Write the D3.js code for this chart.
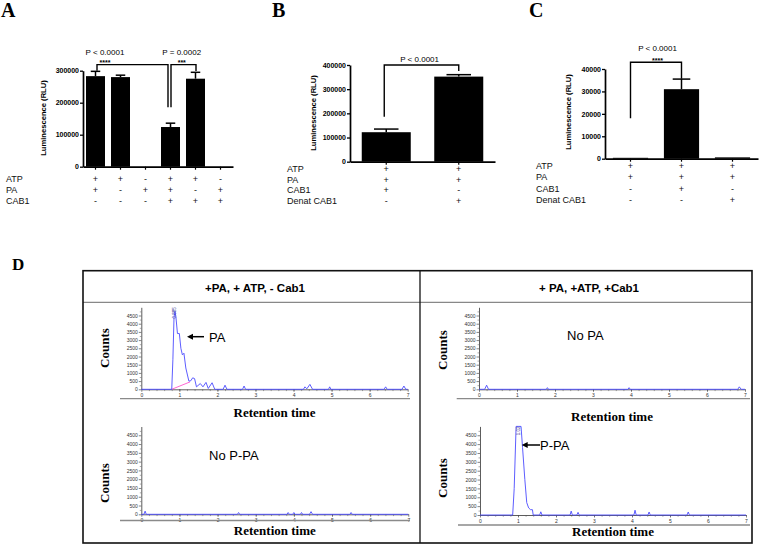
<!DOCTYPE html>
<html><head><meta charset="utf-8">
<script src="https://cdn.jsdelivr.net/npm/d3@7"></script>
<style>
body{margin:0;background:#fff}
svg{display:block}
</style></head><body>
<svg id="c" width="760" height="548"></svg>
<script>
// ---------- DATA ----------
// Panel A
const aMeans = [283000, 280000, 0, 124000, 275000, 0];
const aErrors = [15000, 6000, 0, 12000, 20000, 0];
const aTicks = [0, 100000, 200000, 300000];
const aRowLabels = ["ATP", "PA", "CAB1"];
const aSigns = [["+","+","-","+","+","-"],["+","-","+","+","-","+"],["-","-","-","+","+","+"]];
const aBrackets = [
  {from:0, to:3, top:319000, leftEnd:300000, rightEnd:186000, p:"P < 0.0001", stars:"****"},
  {from:3, to:4, top:319000, leftEnd:186000, rightEnd:299000, p:"P = 0.0002", stars:"***"}
];
// Panel B
const bMeans = [122000, 352000];
const bErrors = [13000, 8000];
const bTicks = [0, 100000, 200000, 300000, 400000];
const bRowLabels = ["ATP", "PA", "CAB1", "Denat CAB1"];
const bSigns = [["+","+"],["+","+"],["+","-"],["-","+"]];
const bBrackets = [{from:0, to:1, top:400000, leftEnd:186000, rightEnd:375000, p:"P < 0.0001", stars:""}];
// Panel C
const cMeans = [400, 31000, 600];
const cErrors = [0, 4500, 0];
const cTicks = [0, 10000, 20000, 30000, 40000];
const cRowLabels = ["ATP", "PA", "CAB1", "Denat CAB1"];
const cSigns = [["+","+","+"],["+","+","+"],["-","+","-"],["-","-","+"]];
const cBrackets = [{from:0, to:1, top:43000, leftEnd:18000, rightEnd:35700, p:"P < 0.0001", stars:"****"}];
// Panel D chromatograms [retention time, counts]
const chromXTicks = [0,1,2,3,4,5,6,7];
const chromYTicks = [0,500,1000,1500,2000,2500,3000,3500,4000,4500];
const dTitles = ["+PA, + ATP, - Cab1", "+ PA, +ATP, +Cab1"];
const chromTL = [[0,0],[0.8,0],[0.83,1800],[0.86,4400],[0.885,4750],[0.91,4400],[0.95,3400],[1.0,3400],[1.04,2500],[1.08,2100],[1.12,2200],[1.17,1300],[1.25,500],[1.3,520],[1.35,700],[1.4,650],[1.45,150],[1.55,350],[1.62,150],[1.7,420],[1.76,50],[1.86,400],[1.93,0],[2.15,0],[2.2,250],[2.25,0],[2.66,0],[2.7,200],[2.74,0],[4.26,0],[4.3,150],[4.35,30],[4.43,300],[4.5,0],[4.92,0],[4.95,150],[4.98,0],[6.38,0],[6.42,150],[6.46,0],[6.85,0],[6.9,200],[6.95,0],[7,0]];
const chromTLBase = [[0.8,0],[1.28,450]];
const chromTR = [[0,0],[0.15,0],[0.2,250],[0.25,0],[1.77,0],[1.8,100],[1.83,0],[3.92,0],[3.95,100],[3.98,0],[6.81,0],[6.85,150],[6.9,0],[7,0]];
const chromBL = [[0,0],[0.07,0],[0.1,180],[0.13,0],[2.52,0],[2.55,100],[2.58,0],[3.82,0],[3.85,100],[3.88,0],[3.97,0],[4.0,100],[4.03,0],[4.17,0],[4.2,100],[4.23,0],[4.41,0],[4.45,150],[4.49,0],[5.47,0],[5.5,100],[5.53,0],[7,0]];
const chromBR = [[0,0],[0.86,0],[0.9,1500],[0.95,5000],[1.08,5000],[1.12,3800],[1.18,2000],[1.23,700],[1.28,400],[1.33,300],[1.38,300],[1.4,0],[1.57,0],[1.6,180],[1.63,0],[2.37,0],[2.4,220],[2.43,0],[2.55,0],[2.58,150],[2.61,0],[4.05,0],[4.08,270],[4.11,0],[4.42,0],[4.45,170],[4.48,0],[5.45,0],[5.48,170],[5.51,0],[7,0]];

// ---------- DRAW ----------
const svg = d3.select("#c");
const SANS = "Arial, 'Liberation Sans', sans-serif";
const SERIF = "'Times New Roman', 'Liberation Serif', serif";

function panelLetter(t, x, y, size) {
  svg.append("text").attr("x", x).attr("y", y).attr("font-family", SERIF)
    .attr("font-weight", "bold").attr("font-size", size).text(t);
}

function barChart(cfg) {
  const g = svg.append("g");
  const n = cfg.means.length;
  const x = d3.scaleBand().domain(d3.range(n)).range(cfg.xRange)
    .paddingInner(cfg.pad).paddingOuter(cfg.pad / 2);
  const y = d3.scaleLinear().domain([0, cfg.yMax]).range(cfg.yRange);
  const cx = i => x(i) + x.bandwidth() / 2;

  g.selectAll("rect.bar").data(cfg.means).join("rect").attr("class", "bar")
    .attr("x", (d, i) => x(i)).attr("width", x.bandwidth())
    .attr("y", d => y(d)).attr("height", d => y(0) - y(d)).attr("fill", "#000");

  cfg.means.forEach((m, i) => {
    const e = cfg.errors[i];
    if (!e) return;
    const cw = x.bandwidth() * 0.25;
    g.append("line").attr("x1", cx(i)).attr("x2", cx(i)).attr("y1", y(m)).attr("y2", y(m + e))
      .attr("stroke", "#000").attr("stroke-width", 1.5);
    g.append("line").attr("x1", cx(i) - cw).attr("x2", cx(i) + cw).attr("y1", y(m + e)).attr("y2", y(m + e))
      .attr("stroke", "#000").attr("stroke-width", 1.5);
  });

  const ya = g.append("g").attr("transform", `translate(${cfg.xRange[0]},0)`)
    .call(d3.axisLeft(y).tickValues(cfg.ticks).tickSize(3).tickSizeOuter(0).tickPadding(1).tickFormat(d3.format("d")));
  ya.select(".domain").attr("stroke-width", 1.7);
  ya.selectAll(".tick line").attr("stroke-width", 1.3);
  ya.selectAll("text").attr("font-family", SANS).attr("font-weight", "bold").attr("font-size", 7).attr("fill", "#000");

  const xa = g.append("g").attr("transform", `translate(0,${cfg.yRange[0]})`)
    .call(d3.axisBottom(x).tickSize(3).tickSizeOuter(0).tickFormat(""));
  xa.select(".domain").attr("stroke-width", 1.7);
  xa.selectAll(".tick line").attr("stroke-width", 1.2);

  g.append("text").attr("transform", `translate(${cfg.yLabelX},${cfg.yLabelY}) rotate(-90)`)
    .attr("text-anchor", "middle").attr("font-family", SANS).attr("font-weight", "bold")
    .attr("font-size", 7.6).text("Luminescence (RLU)");

  cfg.rows.forEach((r, ri) => {
    const yy = cfg.rowY0 + ri * cfg.rowStep;
    g.append("text").attr("x", cfg.rowX).attr("y", yy).attr("font-family", SANS)
      .attr("font-size", 9).attr("fill", "#111").text(r);
    cfg.signs[ri].forEach((s, i) => {
      g.append("text").attr("x", cx(i)).attr("y", yy).attr("text-anchor", "middle")
        .attr("font-family", SANS).attr("font-size", 9).attr("fill", "#111").text(s);
    });
  });

  cfg.brackets.forEach((b, bi) => {
    const lx = cx(b.from) + cfg.bracketOff[bi][0];
    const rx = cx(b.to) + cfg.bracketOff[bi][1];
    g.append("path").attr("d", `M${lx},${y(b.leftEnd)}V${y(b.top)}H${rx}V${y(b.rightEnd)}`)
      .attr("fill", "none").attr("stroke", "#000").attr("stroke-width", 1.4);
    const tx = cx(0) + cfg.labelIdx[bi] * x.step();
    g.append("text").attr("x", tx).attr("y", y(b.top) + cfg.pDy).attr("text-anchor", "middle")
      .attr("font-family", SANS).attr("font-size", 8).text(b.p);
    if (b.stars) g.append("text").attr("x", tx).attr("y", y(b.top) + cfg.sDy).attr("text-anchor", "middle")
      .attr("font-family", SANS).attr("font-weight", "bold").attr("font-size", 7).text(b.stars);
  });
}

panelLetter("A", 1, 17, 20);
panelLetter("B", 272, 17, 20);
panelLetter("C", 529, 17, 20);
panelLetter("D", 12, 270, 17);

barChart({means: aMeans, errors: aErrors, ticks: aTicks, rows: aRowLabels, signs: aSigns, brackets: aBrackets,
  xRange: [83, 233], yRange: [166.7, 70.7], yMax: 300000, pad: 0.24,
  yLabelX: 46, yLabelY: 118, rowX: 6, rowY0: 182, rowStep: 10.8,
  bracketOff: [[1.5, -2.5], [0.5, 0.5]], labelIdx: [0.38, 3.45], pDy: -10, sDy: 0.8});

barChart({means: bMeans, errors: bErrors, ticks: bTicks, rows: bRowLabels, signs: bSigns, brackets: bBrackets,
  xRange: [350, 495], yRange: [161.7, 65], yMax: 400000, pad: 0.324,
  yLabelX: 315.5, yLabelY: 113, rowX: 287, rowY0: 172, rowStep: 10.7,
  bracketOff: [[-2, 0]], labelIdx: [0.46], pDy: -3, sDy: 0});

barChart({means: cMeans, errors: cErrors, ticks: cTicks, rows: cRowLabels, signs: cSigns, brackets: cBrackets,
  xRange: [605, 758], yRange: [158.7, 69], yMax: 40000, pad: 0.31,
  yLabelX: 571, yLabelY: 112, rowX: 536, rowY0: 168.5, rowStep: 11.5,
  bracketOff: [[0, 0]], labelIdx: [0.53], pDy: -11, sDy: 0.8});

// Panel D frame
const D = {left: 83, right: 752, top: 270.7, bottom: 543, mid: 420, header: 302.3};
svg.append("line").attr("x1", D.left).attr("x2", D.right).attr("y1", D.header).attr("y2", D.header)
  .attr("stroke", "#888").attr("stroke-width", 1.2);
svg.append("line").attr("x1", D.mid).attr("x2", D.mid).attr("y1", D.top).attr("y2", D.bottom)
  .attr("stroke", "#111").attr("stroke-width", 1.3);
svg.append("rect").attr("x", D.left).attr("y", D.top).attr("width", D.right - D.left).attr("height", D.bottom - D.top)
  .attr("fill", "none").attr("stroke", "#111").attr("stroke-width", 1.6);
svg.append("text").attr("x", 255).attr("y", 292).attr("text-anchor", "middle").attr("font-family", SANS)
  .attr("font-weight", "bold").attr("font-size", 11.5).text(dTitles[0]);
svg.append("text").attr("x", 589).attr("y", 292).attr("text-anchor", "middle").attr("font-family", SANS)
  .attr("font-weight", "bold").attr("font-size", 11.5).text(dTitles[1]);

function chrom(cfg) {
  const g = svg.append("g");
  const x = d3.scaleLinear().domain([0, 7]).range([cfg.x0, cfg.x7]);
  const y = d3.scaleLinear().domain([0, 5000]).range([cfg.y0, cfg.yTop]);
  // minor ticks
  const ya = g.append("g").attr("transform", `translate(${cfg.x0},0)`)
    .call(d3.axisLeft(y).tickValues(chromYTicks).tickSize(2.5).tickSizeOuter(0).tickPadding(1).tickFormat(d3.format("d")));
  ya.select(".domain").attr("stroke", "#333").attr("stroke-width", 0.8);
  ya.selectAll(".tick line").attr("stroke", "#333").attr("stroke-width", 0.6);
  ya.selectAll("text").attr("font-family", SANS).attr("font-size", 5).attr("fill", "#333");
  g.append("g").attr("transform", `translate(${cfg.x0},0)`)
    .call(d3.axisLeft(y).tickValues(d3.range(250, 5001, 500)).tickSize(1.5).tickFormat(""))
    .call(s => { s.select(".domain").remove(); s.selectAll("line").attr("stroke", "#555").attr("stroke-width", 0.5); });

  const xa = g.append("g").attr("transform", `translate(0,${cfg.y0})`)
    .call(d3.axisBottom(x).tickValues(chromXTicks).tickSize(2.5).tickSizeOuter(0).tickPadding(1.5).tickFormat(d3.format("d")));
  xa.select(".domain").attr("stroke", "#333").attr("stroke-width", 0.8);
  xa.selectAll(".tick line").attr("stroke", "#333").attr("stroke-width", 0.6);
  xa.selectAll("text").attr("font-family", SANS).attr("font-size", 5).attr("fill", "#333");
  g.append("g").attr("transform", `translate(0,${cfg.y0})`)
    .call(d3.axisBottom(x).tickValues(d3.range(0.2, 7, 0.2)).tickSize(1.8).tickFormat(""))
    .call(s => { s.select(".domain").remove(); s.selectAll("line").attr("stroke", "#555").attr("stroke-width", 0.5); });

  const line = d3.line().x(d => x(d[0])).y(d => y(d[1]));
  if (cfg.base) g.append("path").attr("d", line(cfg.base)).attr("fill", "none").attr("stroke", "#ff55cc").attr("stroke-width", 0.9);
  g.append("path").attr("d", line(cfg.data)).attr("fill", "none").attr("stroke", "#4b4bff").attr("stroke-width", 0.9);

  if (cfg.peakLabel) g.append("text").attr("transform", `translate(${x(cfg.peakLabel[0]) + 1.5},${y(cfg.peakLabel[1])}) rotate(-90)`)
    .attr("font-family", SANS).attr("font-size", 4.5).attr("fill", "#3a3a99").attr("text-anchor", "end").text(cfg.peakLabel[2]);

  g.append("line").attr("x1", cfg.ruleX[0]).attr("x2", cfg.ruleX[1]).attr("y1", cfg.ruleY).attr("y2", cfg.ruleY)
    .attr("stroke", "#8a8a8a").attr("stroke-width", 1.3);
  g.append("text").attr("x", (cfg.x0 + cfg.x7) / 2).attr("y", cfg.titleY).attr("text-anchor", "middle")
    .attr("font-family", SERIF).attr("font-weight", "bold").attr("font-size", 13).text("Retention time");
  g.append("text").attr("transform", `translate(${cfg.countsX},${cfg.countsY}) rotate(-90)`).attr("text-anchor", "middle")
    .attr("font-family", SERIF).attr("font-weight", "bold").attr("font-size", 13).text("Counts");

  if (cfg.note) {
    g.append("text").attr("x", cfg.note.x).attr("y", cfg.note.y).attr("font-family", SANS)
      .attr("font-size", 13).text(cfg.note.t);
  }
  if (cfg.arrow) {
    const a = cfg.arrow;
    g.append("line").attr("x1", a.x1).attr("x2", a.x2 + 4).attr("y1", a.y).attr("y2", a.y)
      .attr("stroke", "#000").attr("stroke-width", 1.5);
    g.append("path").attr("d", `M${a.x2},${a.y}l6,-3v6z`).attr("fill", "#000");
  }
}

chrom({data: chromTL, base: chromTLBase, x0: 141.3, x7: 407.7, y0: 389.3, yTop: 307.3,
  ruleY: 398.7, ruleX: [120, 410], titleY: 417, countsX: 108.5, countsY: 348,
  peakLabel: [0.885, 5000, "0.885"],
  note: {x: 209, y: 341.5, t: "PA"}, arrow: {x1: 204, x2: 187, y: 336.7}});
chrom({data: chromTR, x0: 479, x7: 745, y0: 389.3, yTop: 307.3,
  ruleY: 398.7, ruleX: [456.7, 750], titleY: 421, countsX: 447, countsY: 350,
  note: {x: 567, y: 339.6, t: "No PA"}});
chrom({data: chromBL, x0: 141.3, x7: 408.3, y0: 514.3, yTop: 426.5,
  ruleY: 520.5, ruleX: [120, 410], titleY: 534.5, countsX: 108.5, countsY: 483,
  note: {x: 209, y: 459.7, t: "No P-PA"}});
chrom({data: chromBR, x0: 480, x7: 746, y0: 515, yTop: 426.4,
  ruleY: 525, ruleX: [458, 750], titleY: 536, countsX: 447, countsY: 478,
  peakLabel: [1.02, 5000, "1.02"],
  note: {x: 540, y: 449.7, t: "P-PA"}, arrow: {x1: 540, x2: 521.7, y: 445}});
</script>
</body></html>
